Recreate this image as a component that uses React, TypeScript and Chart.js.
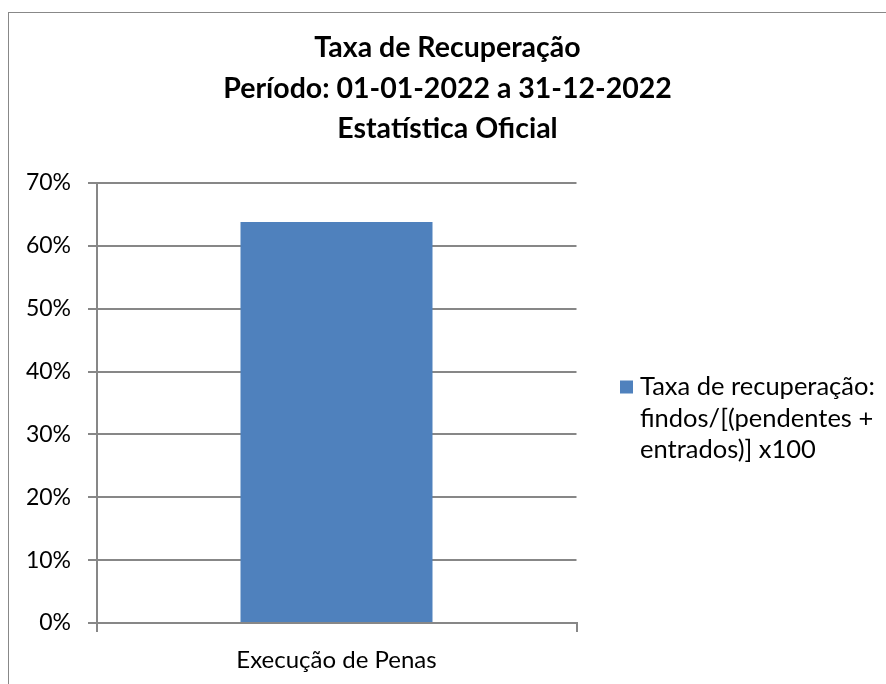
import React, { useEffect, useRef } from "react";
import { Chart, registerables } from "chart.js";

Chart.register(...registerables);

const TITLE_LINES = [
  "Taxa de Recuperação",
  "Período: 01-01-2022 a 31-12-2022",
  "Estatística Oficial",
];
const CATEGORIES = ["Execução de Penas"];
const RECOVERY_RATE = [63.8];
const LEGEND_LINES = [
  "Taxa de recuperação:",
  "findos/[(pendentes +",
  "entrados)] x100",
];
const Y_MIN = 0;
const Y_MAX = 70;
const Y_STEP = 10;

const FONT = "Lato, 'Open Sans', sans-serif";
const BAR_COLOR = "#4F81BD";
const GRID_COLOR = "#878787";

const legendPlugin = {
  id: "sideLegend",
  afterDraw(chart: any) {
    const ctx = chart.ctx;
    ctx.save();
    const x0 = chart.chartArea.right + 43.5;
    const y0 = 374;
    ctx.fillStyle = BAR_COLOR;
    ctx.fillRect(x0, y0 - 6.5, 13, 13);
    ctx.fillStyle = "#000";
    ctx.font = `25.5px ${FONT}`;
    ctx.textBaseline = "middle";
    ctx.textAlign = "left";
    LEGEND_LINES.forEach((line, i) => {
      ctx.fillText(line, x0 + 20, y0 + i * 31.5);
    });
    ctx.restore();
  },
};

export default function App() {
  const ref = useRef<HTMLCanvasElement | null>(null);
  useEffect(() => {
    if (!ref.current) return;
    const chart = new Chart(ref.current, {
      type: "bar",
      data: {
        labels: CATEGORIES,
        datasets: [
          {
            label: LEGEND_LINES.join(" "),
            data: RECOVERY_RATE,
            backgroundColor: BAR_COLOR,
            borderWidth: 0,
            barPercentage: 0.4,
            categoryPercentage: 1,
          },
        ],
      },
      options: {
        responsive: false,
        animation: false,
        layout: { padding: { left: 0, right: 0, top: 0, bottom: 0 } },
        plugins: {
          legend: { display: false },
          tooltip: { enabled: false },
          title: {
            display: true,
            text: TITLE_LINES,
            color: "#000",
            font: { family: FONT, size: 28.5, weight: "bold", lineHeight: "40.5px" },
            padding: { top: 14.75, bottom: 33.75 },
          },
        },
        scales: {
          x: {
            offset: true,
            grid: {
              offset: true,
              drawOnChartArea: false,
              drawTicks: true,
              tickLength: 9,
              color: GRID_COLOR,
              lineWidth: 2,
            },
            border: { display: true, color: GRID_COLOR, width: 2 },
            ticks: {
              color: "#000",
              font: { family: FONT, size: 24 },
              padding: 14,
            },
            afterFit: (scale: any) => {
              scale.height = 61;
            },
          },
          y: {
            min: Y_MIN,
            max: Y_MAX,
            grid: {
              color: GRID_COLOR,
              lineWidth: 2,
              tickLength: 8.5,
              drawTicks: true,
            },
            border: { display: true, color: GRID_COLOR, width: 2 },
            ticks: {
              stepSize: Y_STEP,
              color: "#000",
              font: { family: FONT, size: 23 },
              padding: 17,
              callback: (v: any) => `${v}%`,
            },
            afterFit: (scale: any) => {
              scale.width = 87.5;
            },
          },
          legendSpace: {
            type: "linear",
            position: "right",
            display: true,
            grid: { display: false, drawTicks: false },
            border: { display: false },
            ticks: { display: false },
            afterFit: (scale: any) => {
              scale.width = 309.5;
            },
          },
        },
      },
      plugins: [legendPlugin],
    });
    return () => chart.destroy();
  }, []);

  return (
    <div
      style={{
        position: "fixed",
        left: 8,
        top: 12,
        width: 878,
        height: 672,
        borderLeft: "1px solid #888",
        borderTop: "1px solid #888",
        boxSizing: "border-box",
        background: "#fff",
      }}
    >
      <div style={{ position: "absolute", left: 0, top: 0, width: 877, height: 671 }}>
        <canvas ref={ref} width={877} height={671} />
      </div>
    </div>
  );
}
